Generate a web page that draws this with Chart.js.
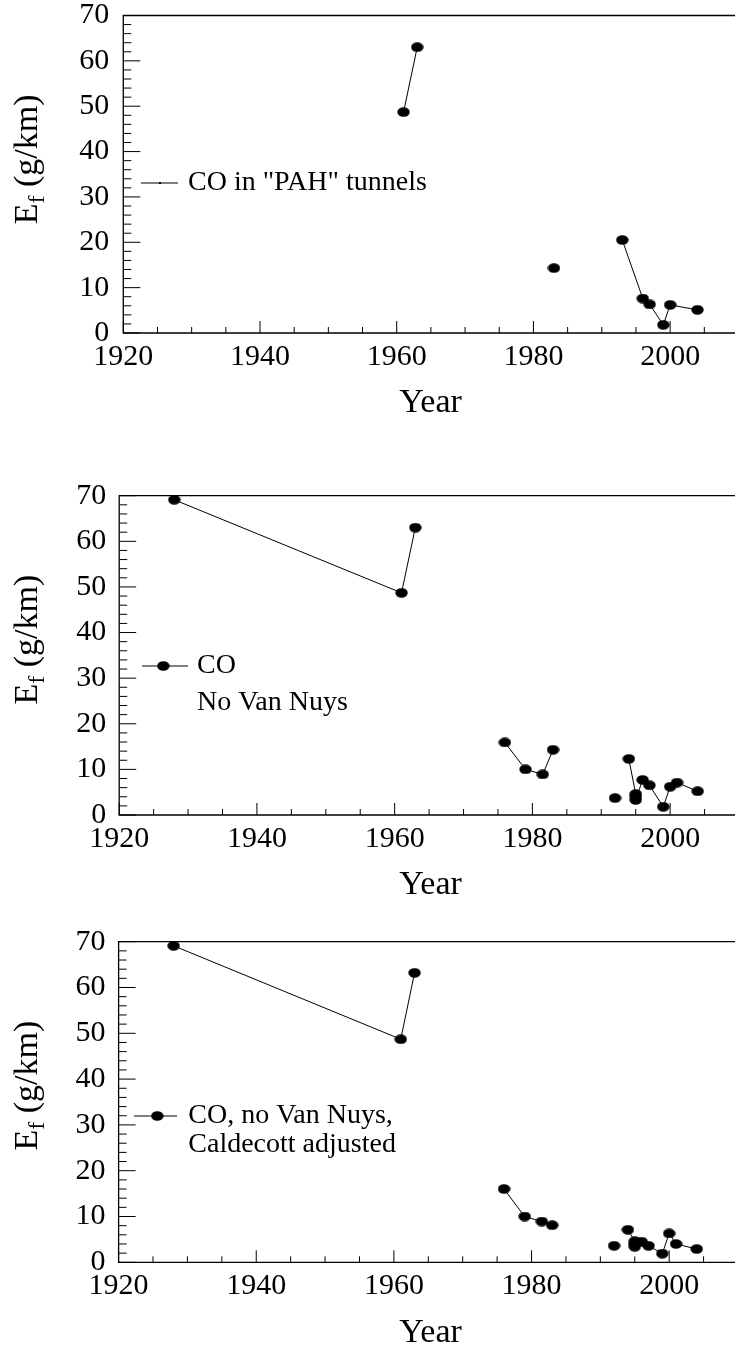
<!DOCTYPE html>
<html>
<head>
<meta charset="utf-8">
<script src="https://cdn.jsdelivr.net/npm/chart.js@4.4.1/dist/chart.umd.min.js"></script>
<style>
html, body { margin: 0; padding: 0; width: 735px; height: 1349px; overflow: hidden; background: #fff; font-family: 'Liberation Serif'; }
canvas { position: absolute; left: 0; }
</style>
</head>
<body>
<canvas id="c1" width="760" height="470" style="top:-20px"></canvas>
<canvas id="c2" width="760" height="450" style="top:450px"></canvas>
<canvas id="c3" width="760" height="449" style="top:900px"></canvas>
<script>
// null = break in the line
var yearsPAH  = [1961, 1963, null, 1983, null, 1993, 1996, 1997, 1999, 2000, 2004];
var coPAH     = [48.7, 63.0, null, 14.3, null, 20.5, 7.6, 6.3, 1.8, 6.2, 5.1];

var yearsNoVN = [1928, 1961, 1963, null, 1976, 1979, 1981.5, 1983, null, 1992, null, 1994, 1995, 1995, 1995, 1996, 1997, 1999, 2000, 2001, 2004];
var coNoVN    = [69.1, 48.7, 63.0, null, 15.9, 10.0, 8.9, 14.3, null, 3.7, null, 12.3, 4.6, 4.0, 3.3, 7.7, 6.5, 1.8, 6.2, 7.1, 5.2];

var yearsAdj  = [1928, 1961, 1963, null, 1976, 1979, 1981.5, 1983, null, 1992, null, 1994, 1995, 1995, 1995, 1996, 1997, 1999, 2000, 2001, 2004];
var coAdj     = [69.1, 48.7, 63.2, null, 16.0, 10.0, 8.9, 8.1, null, 3.6, null, 7.1, 4.6, 4.0, 3.4, 4.5, 3.6, 1.9, 6.3, 4.0, 2.9];

var xTicks = [1920, 1940, 1960, 1980, 2000];
var yTicks = [0, 10, 20, 30, 40, 50, 60, 70];

var SERIF = 'Liberation Serif';
Chart.defaults.font.family = SERIF;

// filled marker, a bit wider than tall like the original
var dot = document.createElement('canvas');
dot.width = 13; dot.height = 10;
(function () {
    var c = dot.getContext('2d');
    c.fillStyle = '#000';
    c.beginPath();
    c.ellipse(6.5, 5, 6.2, 4.8, 0, 0, Math.PI * 2);
    c.fill();
})();

var decor = {
    id: 'decor',
    afterDraw: function (chart, args, o) {
        var ctx = chart.ctx, a = chart.chartArea, xs = chart.scales.x, ys = chart.scales.y;
        ctx.save();
        ctx.strokeStyle = '#000';
        ctx.lineWidth = 1.3;
        ctx.beginPath();
        ctx.moveTo(a.left, a.top); ctx.lineTo(a.right, a.top); ctx.lineTo(a.right, a.bottom);
        ctx.lineTo(a.left, a.bottom); ctx.closePath();
        ctx.stroke();

        // inward ticks
        ctx.lineWidth = 1;
        ctx.beginPath();
        for (var yr = 1920; yr <= 2010; yr += 5) {
            var px = xs.getPixelForValue(yr);
            ctx.moveTo(px, a.bottom);
            ctx.lineTo(px, a.bottom - (yr % 20 === 0 ? 12 : 6));
        }
        for (var v = 0; v <= 70; v += 2) {
            var py = ys.getPixelForValue(v);
            ctx.moveTo(a.left, py);
            ctx.lineTo(a.left + (v % 10 === 0 ? 17 : 8), py);
        }
        ctx.stroke();

        ctx.fillStyle = '#000';
        // x title
        ctx.font = '34px ' + SERIF;
        ctx.textAlign = 'center';
        ctx.textBaseline = 'alphabetic';
        ctx.fillText('Year', 430.5, a.bottom + o.yearGap);

        // y title with subscript, end of text near the top
        var main = '34px ' + SERIF, sub = '24px ' + SERIF;
        ctx.save();
        ctx.translate(37, a.top + 79);
        ctx.rotate(-Math.PI / 2);
        ctx.textAlign = 'left';
        ctx.font = main; var wE = ctx.measureText('E').width, wR = ctx.measureText(' (g/km)').width;
        ctx.font = sub; var wf = ctx.measureText('f').width;
        var x = -(wE + wf + wR);
        ctx.font = main; ctx.fillText('E', x, 0); x += wE;
        ctx.font = sub; ctx.fillText('f', x, 7); x += wf;
        ctx.font = main; ctx.fillText(' (g/km)', x, 0);
        ctx.restore();

        // legend
        var L = o.legend;
        ctx.beginPath();
        ctx.moveTo(L.x1, L.y); ctx.lineTo(L.x2, L.y);
        ctx.stroke();
        if (L.marker) {
            ctx.drawImage(dot, L.mx - dot.width / 2, L.y - dot.height / 2);
        } else {
            ctx.fillRect(L.mx - 1, L.y - 1, 2, 2);
        }
        ctx.font = '28px ' + SERIF;
        ctx.textAlign = 'left';
        ctx.textBaseline = 'middle';
        var lines = [chart.data.datasets[0].label].concat(L.more);
        lines.forEach(function (t, i) { ctx.fillText(t, L.tx, L.y + i * L.gap); });
        ctx.restore();
    }
};

function plain(v) { return String(v); }

function panel(id, top, box, label, years, values, legend, yearGap, yPad) {
    var canvas = document.getElementById(id);
    var H = canvas.height;
    var tickFont = { family: SERIF, size: 30 };
    legend.y -= top;
    return new Chart(canvas, {
        type: 'line',
        data: {
            datasets: [{
                label: label,
                data: years.map(function (yr, i) { return { x: yr, y: values[i] }; }),
                borderColor: '#000',
                backgroundColor: '#000',
                borderWidth: 1,
                pointStyle: dot,
                pointRadius: 6,
                tension: 0,
                spanGaps: false,
                clip: false
            }]
        },
        options: {
            responsive: false,
            animation: false,
            devicePixelRatio: 1,
            layout: { padding: { top: box.top - top, right: 760 - box.right, left: 0, bottom: 0 } },
            plugins: {
                legend: { display: false },
                tooltip: { enabled: false },
                decor: { legend: legend, yearGap: yearGap }
            },
            scales: {
                x: {
                    type: 'linear', min: 1920, max: 2010,
                    grid: { display: false, drawTicks: false },
                    border: { display: false },
                    ticks: { padding: 6, font: tickFont, color: '#000', autoSkip: false, maxRotation: 0, callback: plain },
                    afterBuildTicks: function (s) { s.ticks = xTicks.map(function (v) { return { value: v }; }); },
                    afterFit: function (s) { s.height = top + H - box.bottom; }
                },
                y: {
                    type: 'linear', min: 0, max: 70,
                    grid: { display: false, drawTicks: false },
                    border: { display: false },
                    ticks: { padding: yPad, font: tickFont, color: '#000', callback: plain },
                    afterBuildTicks: function (s) { s.ticks = yTicks.map(function (v) { return { value: v }; }); },
                    afterFit: function (s) { s.width = box.left; }
                }
            }
        },
        plugins: [decor]
    });
}

panel('c1', -20, { left: 123.3, right: 738.5, top: 15.5, bottom: 333 },
    'CO in "PAH" tunnels', yearsPAH, coPAH,
    { x1: 141, x2: 178, y: 183, mx: 160, marker: false, tx: 188, more: [], gap: 0 }, 79, 14);

panel('c2', 450, { left: 119.2, right: 739, top: 495.7, bottom: 815 },
    'CO', yearsNoVN, coNoVN,
    { x1: 142, x2: 188, y: 666, mx: 163.3, marker: true, tx: 197, more: ['No Van Nuys'], gap: 37 }, 79, 13);

panel('c3', 900, { left: 118.6, right: 738, top: 941.7, bottom: 1262.3 },
    'CO, no Van Nuys,', yearsAdj, coAdj,
    { x1: 134, x2: 177, y: 1116, mx: 157.3, marker: true, tx: 188.3, more: ['Caldecott adjusted'], gap: 29 }, 79.7, 13);
</script>
</body>
</html>
